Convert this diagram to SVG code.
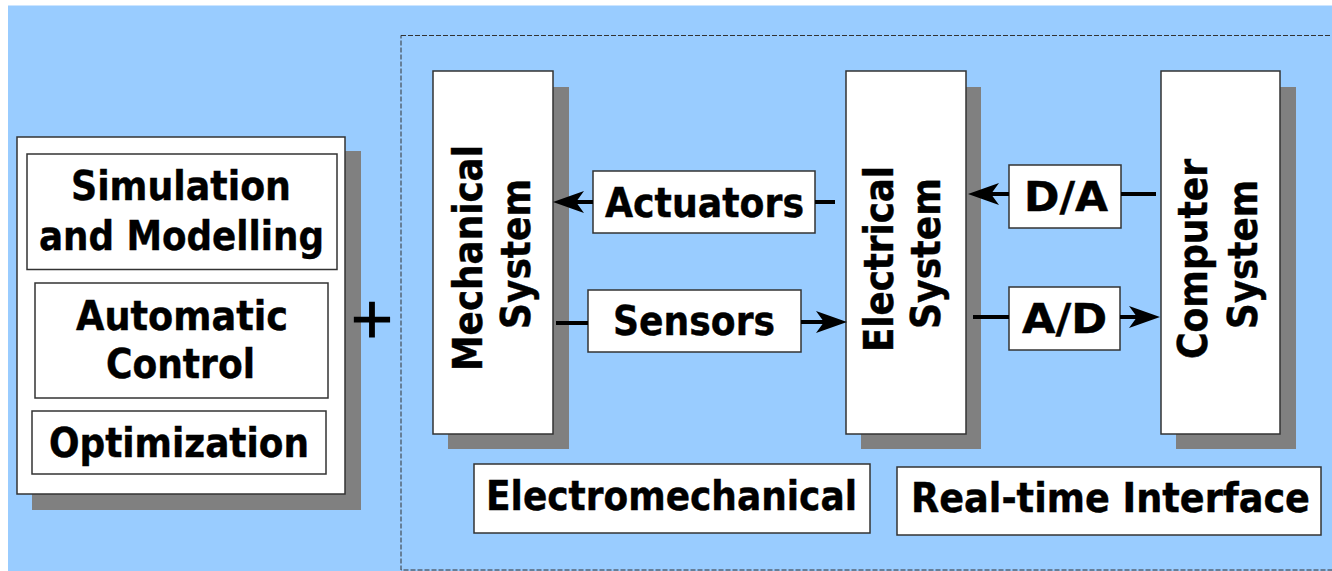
<svg xmlns="http://www.w3.org/2000/svg" width="1332" height="571" viewBox="0 0 1332 571">
  <style>
    .box { fill: #ffffff; stroke: #333333; stroke-width: 1.5; }
    .shadow { fill: #808080; }
    .lbl { font-family: "DejaVu Sans Condensed", "DejaVu Sans", sans-serif; font-weight: bold; font-size: 40px; fill: #000000; stroke: #000000; stroke-width: 0.4; text-anchor: middle; }
    .wire { stroke: #000000; stroke-width: 4; fill: none; }
    .plus { font-family: "DejaVu Sans", sans-serif; font-size: 56px; fill: #000000; stroke: #000000; stroke-width: 1.2; text-anchor: middle; }
  </style>
  <defs>
    <marker id="ah" markerUnits="userSpaceOnUse" orient="auto" refX="0" refY="0" markerWidth="40" markerHeight="30" overflow="visible">
      <path d="M20,0 L-11,-11 L-3,0 L-11,11 Z" fill="#000000"/>
    </marker>
  </defs>

  <rect x="0" y="0" width="1332" height="571" fill="#ffffff"/>
  <rect x="8" y="5.5" width="1324" height="566" fill="#99ccff"/>
  <rect x="401" y="35.5" width="1000" height="534.5" fill="none" stroke="#333333" stroke-width="1" stroke-dasharray="5 2"/>

  <g id="disciplines">
    <rect class="shadow" x="32" y="151" width="329" height="359"/>
    <rect class="box" x="17" y="137" width="328" height="357"/>
  </g>
  <g id="simulation">
    <rect class="box" x="27" y="154" width="310" height="115.5"/>
    <text class="lbl" x="181" y="200" textLength="220" lengthAdjust="spacingAndGlyphs">Simulation</text>
    <text class="lbl" x="181.5" y="249.5" textLength="285" lengthAdjust="spacingAndGlyphs">and Modelling</text>
  </g>
  <g id="control">
    <rect class="box" x="35" y="283" width="293" height="115"/>
    <text class="lbl" x="182" y="329.5" textLength="212" lengthAdjust="spacingAndGlyphs">Automatic</text>
    <text class="lbl" x="180.5" y="377.5" textLength="149" lengthAdjust="spacingAndGlyphs">Control</text>
  </g>
  <g id="optimization">
    <rect class="box" x="32" y="411" width="294" height="63"/>
    <text class="lbl" x="179" y="457" textLength="260" lengthAdjust="spacingAndGlyphs">Optimization</text>
  </g>
  <g id="plus">
    <text class="plus" x="372" y="337">+</text>
  </g>

  <g id="mechanical">
    <rect class="shadow" x="448" y="87" width="121" height="362"/>
    <rect class="box" x="433" y="71" width="120" height="363"/>
    <text class="lbl" transform="translate(482,258) rotate(-90)" textLength="226" lengthAdjust="spacingAndGlyphs">Mechanical</text>
    <text class="lbl" transform="translate(530,254) rotate(-90)" textLength="150" lengthAdjust="spacingAndGlyphs">System</text>
  </g>
  <g id="electrical">
    <rect class="shadow" x="861" y="87" width="120" height="362"/>
    <rect class="box" x="846" y="71" width="120" height="363"/>
    <text class="lbl" transform="translate(893,259) rotate(-90)" textLength="186" lengthAdjust="spacingAndGlyphs">Electrical</text>
    <text class="lbl" transform="translate(940,253.5) rotate(-90)" textLength="151" lengthAdjust="spacingAndGlyphs">System</text>
  </g>
  <g id="computer">
    <rect class="shadow" x="1176" y="87" width="120" height="362"/>
    <rect class="box" x="1161" y="71" width="119" height="363"/>
    <text class="lbl" transform="translate(1207,259) rotate(-90)" textLength="200" lengthAdjust="spacingAndGlyphs">Computer</text>
    <text class="lbl" transform="translate(1257,254.5) rotate(-90)" textLength="149" lengthAdjust="spacingAndGlyphs">System</text>
  </g>
  <g id="actuators">
    <rect class="box" x="593" y="171" width="222" height="62"/>
    <text class="lbl" x="704.5" y="217" textLength="199" lengthAdjust="spacingAndGlyphs">Actuators</text>
  </g>
  <g id="sensors">
    <rect class="box" x="588" y="290" width="213" height="62"/>
    <text class="lbl" x="694" y="335" textLength="162" lengthAdjust="spacingAndGlyphs">Sensors</text>
  </g>
  <g id="da">
    <rect class="box" x="1009" y="165" width="112" height="63"/>
    <text class="lbl" x="1066" y="211" textLength="84" lengthAdjust="spacingAndGlyphs">D/A</text>
  </g>
  <g id="ad">
    <rect class="box" x="1009" y="287" width="111" height="63"/>
    <text class="lbl" x="1064.5" y="333" textLength="85" lengthAdjust="spacingAndGlyphs">A/D</text>
  </g>
  <g id="electromechanical">
    <rect class="box" x="474" y="464" width="396" height="69"/>
    <text class="lbl" x="671.5" y="510" textLength="371" lengthAdjust="spacingAndGlyphs">Electromechanical</text>
  </g>
  <g id="realtime">
    <rect class="box" x="897" y="467" width="424" height="68"/>
    <text class="lbl" x="1110.5" y="512" textLength="399" lengthAdjust="spacingAndGlyphs">Real-time Interface</text>
  </g>

  <g id="connectors">
    <line class="wire" x1="815" y1="202" x2="835" y2="202"/>
    <line class="wire" x1="593" y1="202" x2="573" y2="202" marker-end="url(#ah)"/>
    <line class="wire" x1="556" y1="323" x2="588" y2="323"/>
    <line class="wire" x1="801" y1="322" x2="827" y2="322" marker-end="url(#ah)"/>
    <line class="wire" x1="1121" y1="194" x2="1156" y2="194"/>
    <line class="wire" x1="1009" y1="194" x2="988" y2="194" marker-end="url(#ah)"/>
    <line class="wire" x1="973" y1="317" x2="1009" y2="317"/>
    <line class="wire" x1="1120" y1="317" x2="1140" y2="317" marker-end="url(#ah)"/>
  </g>
</svg>
